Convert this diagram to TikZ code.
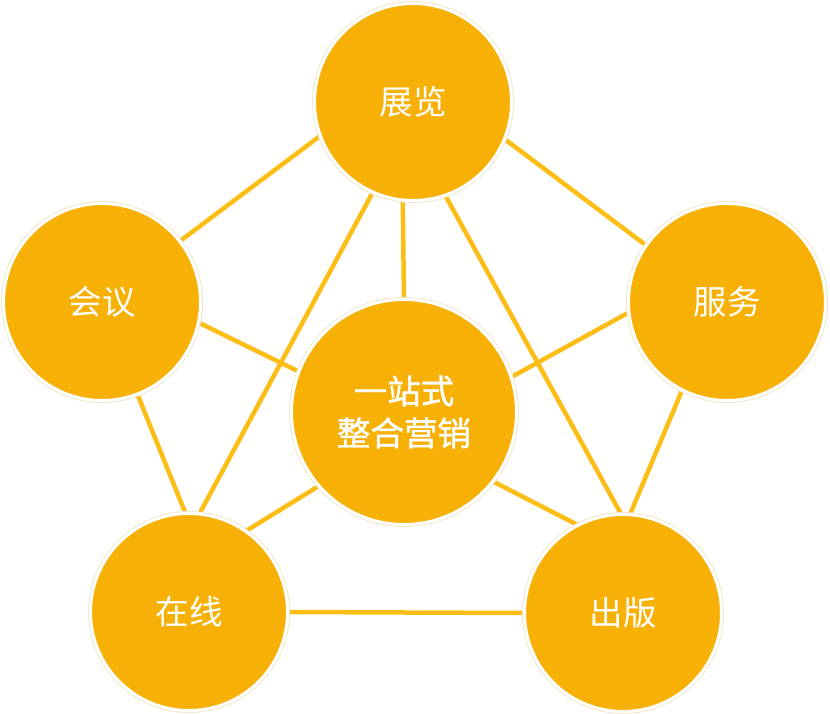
\documentclass[tikz,border=0pt]{standalone}
\usepackage{fontspec}
\newfontfamily\cjk{Noto Sans CJK SC}
\newfontfamily\cjkc[FakeBold=1.3]{Noto Sans CJK SC}
\usetikzlibrary{backgrounds}
\definecolor{discfill}{RGB}{247,176,5}
\definecolor{linkcol}{RGB}{252,190,22}
\definecolor{ringcol}{RGB}{242,232,205}
\tikzset{
  disc/.style={circle, fill=discfill, draw=white, line width=3pt, inner sep=0pt, outer sep=0pt,
    minimum size=197pt, text=white, font=\cjk\fontsize{33.5}{40}\selectfont,
    preaction={draw=ringcol, line width=5pt}},
  bigdisc/.style={disc, minimum size=225pt, align=center, font=\cjkc\fontsize{33.5}{42}\selectfont},
  link/.style={draw=linkcol, line width=4.5pt}
}
\begin{document}
\begin{tikzpicture}[x=1pt,y=-1pt]
\useasboundingbox (0,0) rectangle (830,714);
\node[disc] (zl) at (413,102) {展览};
\node[disc] (hy) at (102,302) {会议};
\node[disc] (fw) at (727,302) {服务};
\node[disc] (zx) at (189,612) {在线};
\node[disc] (cb) at (623,613) {出版};
\node[bigdisc] (c) at (404,412) {一站式\\整合营销};
\begin{scope}[on background layer]
\draw[link] (zl.200) -- (hy.38);
\draw[link] (zl.338) -- (fw.145);
\draw[link] (zl.264.5) -- (c.90.5);
\draw[link] (zl.246) -- (zx.84.3);
\draw[link] (zl.289.5) -- (cb.91.7);
\draw[link] (hy.348.3) -- (c.159.6);
\draw[link] (hy.291.6) -- (zx.92.2);
\draw[link] (fw.186.7) -- (c.18.4);
\draw[link] (fw.243.2) -- (cb.86);
\draw[link] (c.221.2) -- (zx.55.2);
\draw[link] (c.322.8) -- (cb.117.8);
\draw[link] (zx.0) -- (cb.180);
\end{scope}
\end{tikzpicture}
\end{document}
